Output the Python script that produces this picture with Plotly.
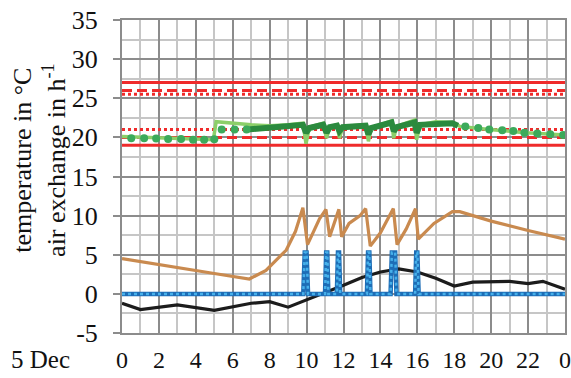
import plotly.graph_objects as go

# ---- data -------------------------------------------------------------
# comfort band limits (°C)
limit_solid = [27.0, 19.0]
limit_dash = [26.0, 20.0]
limit_dot = [25.5, 21.0]

# supply air / air exchange (brown), h^-1
brown_t = [0, 2, 4, 5, 6.9, 7.3, 7.8, 8.3, 8.9, 9.4, 9.8, 10.05, 10.7, 11.05, 11.25,
           11.75, 11.9, 12.3, 12.9, 13.2, 13.45, 14.0, 14.7, 14.9, 15.4, 15.9, 16.05,
           16.9, 17.9, 18.3, 20, 22, 24]
brown_v = [4.5, 3.7, 3.0, 2.6, 1.9, 2.4, 3.0, 4.2, 5.6, 8.0, 11.0, 6.3, 9.6, 10.8, 7.3,
           10.8, 7.3, 9.0, 10.0, 10.9, 6.1, 7.8, 10.9, 6.3, 8.3, 10.9, 7.0,
           9.0, 10.5, 10.5, 9.3, 8.1, 7.0]

# outdoor temperature (black), °C
outdoor_t = [0, 1, 3, 5, 7, 8, 9, 10, 11, 12, 13, 14, 15, 16, 17, 18, 19, 20, 21, 22, 22.8, 24]
outdoor_v = [-1.2, -2.0, -1.4, -2.1, -1.2, -1.0, -1.7, -0.8, 0.1, 1.1, 2.1, 2.8, 3.2, 2.8,
             2.0, 1.0, 1.5, 1.6, 1.6, 1.3, 1.6, 0.6]

# window airing pulses (blue), h^-1
window_t = [0, 9.82, 9.9, 10.0, 10.08, 11.0, 11.06, 11.12, 11.18, 11.64, 11.7, 11.76,
            11.82, 13.27, 13.33, 13.4, 13.46, 14.55, 14.62, 14.8, 14.87, 15.88, 15.94,
            16.0, 16.07, 24]
window_v = [0, 0, 5.3, 5.3, 0, 0, 5.3, 5.3, 0, 0, 5.3, 5.3,
            0, 0, 5.3, 5.3, 0, 0, 5.3, 5.3, 0, 0, 5.3,
            5.3, 0, 0]

# room air temperature (light green), °C
room_t = [0, 2, 4, 4.95, 5.1, 6, 7, 8, 9, 9.8, 9.97, 10.15, 10.9, 11.08, 11.25, 11.65,
          11.78, 11.95, 12.5, 13.2, 13.35, 13.5, 14.6, 14.72, 14.88, 15.85, 15.96, 16.15,
          17.0, 17.9, 18.3, 19.9, 21.9, 24]
room_v = [20.1, 19.9, 19.8, 19.7, 22.0, 21.8, 21.6, 21.5, 21.6, 21.8, 19.2, 21.3, 21.8,
          19.9, 21.3, 21.6, 19.9, 21.3, 21.5, 21.6, 19.5, 21.2, 22.1, 19.9, 21.4, 22.2,
          19.7, 21.6, 22.0, 21.9, 21.4, 21.0, 20.6, 20.3]

# operative temperature, occupied hours (dark green band), °C
oper_t = [6.8, 8, 9, 9.8, 9.97, 10.15, 10.9, 11.08, 11.25, 11.65, 11.78, 11.95, 13.2,
          13.35, 13.5, 14.6, 14.72, 14.88, 15.85, 15.96, 16.15, 17.9, 18.2]
oper_v = [21.0, 21.2, 21.4, 21.6, 20.6, 21.2, 21.6, 20.6, 21.3, 21.5, 20.8, 21.3, 21.5,
          20.4, 21.2, 21.9, 20.8, 21.3, 21.9, 20.6, 21.6, 21.8, 21.5]

# operative temperature, sparse readings (dark green dots), °C
oper_pts_t = [0.5, 1.2, 1.85, 2.5, 3.2, 3.85, 4.45, 5.0, 5.4, 6.1, 6.75,
              18.6, 19.3, 19.9, 20.6, 21.2, 21.8, 22.5, 23.2, 23.9]
oper_pts_v = [19.9, 19.9, 19.85, 19.8, 19.8, 19.7, 19.7, 19.75, 21.0, 21.0, 21.0,
              21.4, 21.2, 21.0, 20.9, 20.8, 20.6, 20.5, 20.4, 20.3]

x_ticks = list(range(0, 25, 2))
x_labels = [str(h % 24) for h in x_ticks]
y_ticks = list(range(-5, 36, 5))
y_labels = [str(v) for v in y_ticks]

# ---- figure -----------------------------------------------------------
RED = "#ef2b2b"
FONT = "Liberation Serif"
INK = "#111111"

fig = go.Figure()

for vals, dash in ((limit_solid, "solid"), (limit_dash, "10px,5px"), (limit_dot, "dot")):
    for v in vals:
        fig.add_trace(go.Scatter(x=[0, 24], y=[v, v], mode="lines",
                                 line=dict(color=RED, width=3, dash=dash),
                                 hoverinfo="skip", showlegend=False))

fig.add_trace(go.Scatter(x=brown_t, y=brown_v, mode="lines",
                         line=dict(color="#c98a4f", width=3.2), showlegend=False))
fig.add_trace(go.Scatter(x=outdoor_t, y=outdoor_v, mode="lines",
                         line=dict(color="#1c1c1c", width=3.2), showlegend=False))
fig.add_trace(go.Scatter(x=window_t, y=window_v, mode="lines",
                         line=dict(color="#1d6db6", width=4.5), showlegend=False))
fig.add_trace(go.Scatter(x=window_t, y=window_v, mode="lines",
                         line=dict(color="#46b0ea", width=2.5, dash="dot"), showlegend=False))
fig.add_trace(go.Scatter(x=room_t, y=room_v, mode="lines",
                         line=dict(color="#8ccf69", width=3.5), showlegend=False))
fig.add_trace(go.Scatter(x=oper_t, y=oper_v, mode="lines",
                         line=dict(color="#2b8a3e", width=6), showlegend=False))
fig.add_trace(go.Scatter(x=oper_pts_t, y=oper_pts_v, mode="markers",
                         marker=dict(color="#3caa5b", size=8), showlegend=False))

fig.update_layout(
    width=571, height=378,
    margin=dict(l=122, r=6, t=20, b=45),
    paper_bgcolor="white", plot_bgcolor="white",
    font=dict(family=FONT, size=24, color=INK),
    xaxis=dict(range=[0, 24], tickvals=x_ticks, ticktext=x_labels,
               automargin=False,
               showgrid=True, gridcolor="#8c8c8c", gridwidth=2,
               minor=dict(dtick=1, showgrid=True, gridcolor="#c6c6c6", gridwidth=2),
               zeroline=False, showline=True, linecolor="#8c8c8c", linewidth=2,
               mirror=True, ticks="", ticklabelstandoff=4,
               tickfont=dict(family=FONT, size=24, color=INK)),
    yaxis=dict(range=[-5, 35], tickvals=y_ticks, ticktext=y_labels,
               automargin=False,
               showgrid=True, gridcolor="#8c8c8c", gridwidth=2,
               minor=dict(dtick=2.5, showgrid=True, gridcolor="#c6c6c6", gridwidth=2),
               zeroline=False, showline=True, linecolor="#8c8c8c", linewidth=2,
               mirror=True, ticks="outside", ticklen=7, tickwidth=2,
               tickcolor="#8c8c8c", ticklabelstandoff=10,
               tickfont=dict(family=FONT, size=26, color=INK)),
    annotations=[
        dict(text="temperature in °C<br>air exchange in h<sup>-1</sup>",
             textangle=-90, xref="paper", yref="paper", x=-0.185, y=0.55,
             xanchor="center", yanchor="middle", showarrow=False,
             font=dict(family=FONT, size=26, color=INK)),
        dict(text="5 Dec", xref="paper", yref="paper", x=-0.255, y=-0.085,
             xanchor="left", yanchor="middle", showarrow=False,
             font=dict(family=FONT, size=25, color=INK)),
    ],
)

fig.write_html("out.html")
